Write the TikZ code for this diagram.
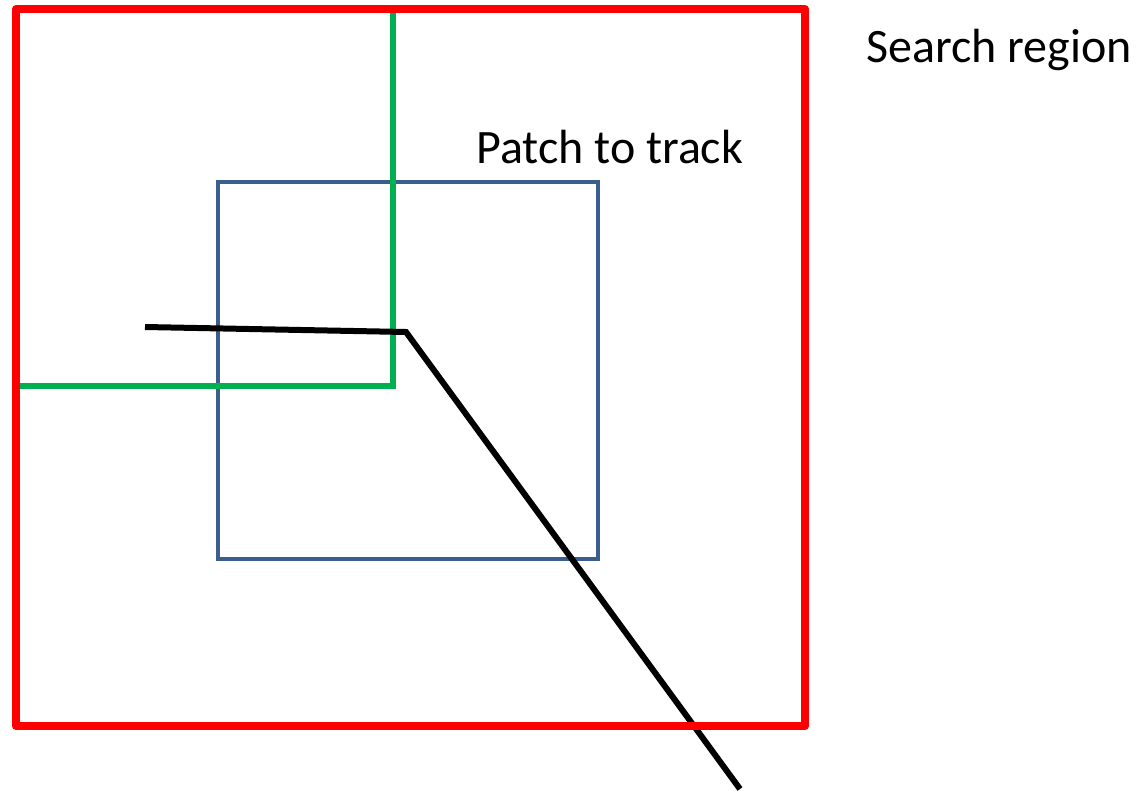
\documentclass[tikz,border=0pt]{standalone}
\usepackage{fontspec}
\setmainfont{Carlito}
\begin{document}
\begin{tikzpicture}[x=1pt,y=-1pt,
  region/.style={draw=red,line width=8pt,line join=round},
  patch/.style={draw=patchblue,line width=3.5pt},
  corner/.style={draw=cornergreen,line width=6pt},
  motion/.style={draw=black,line width=6pt},
  lbl/.style={font=\fontsize{48}{58}\selectfont,inner sep=0pt}]
\definecolor{patchblue}{HTML}{3A5F8E}
\definecolor{cornergreen}{HTML}{00B050}
\useasboundingbox (0,0) rectangle (1147,792);
% search region
\coordinate (r1) at (16,9);
\coordinate (r2) at (805,726);
% patch
\coordinate (p1) at (218,182);
\coordinate (p2) at (598,559);
% corner edges
\coordinate (gtop) at (393,9);
\coordinate (gc) at (393,386);
\coordinate (gleft) at (16,386);
% trajectory
\coordinate (m0) at (145,327);
\coordinate (m1) at (406,332);
\coordinate (m2) at (740,789);
\draw[patch] (p1) rectangle (p2);
\draw[corner] (gtop) -- (gc) -- (gleft);
\draw[motion] (m0) -- (m1) -- (m2);
\draw[region] (r1) rectangle (r2);
\node[lbl,anchor=base west] (sr) at (866,63) {Search region};
\node[lbl,anchor=base west] (pt) at (476,163) {Patch to track};
\end{tikzpicture}
\end{document}
